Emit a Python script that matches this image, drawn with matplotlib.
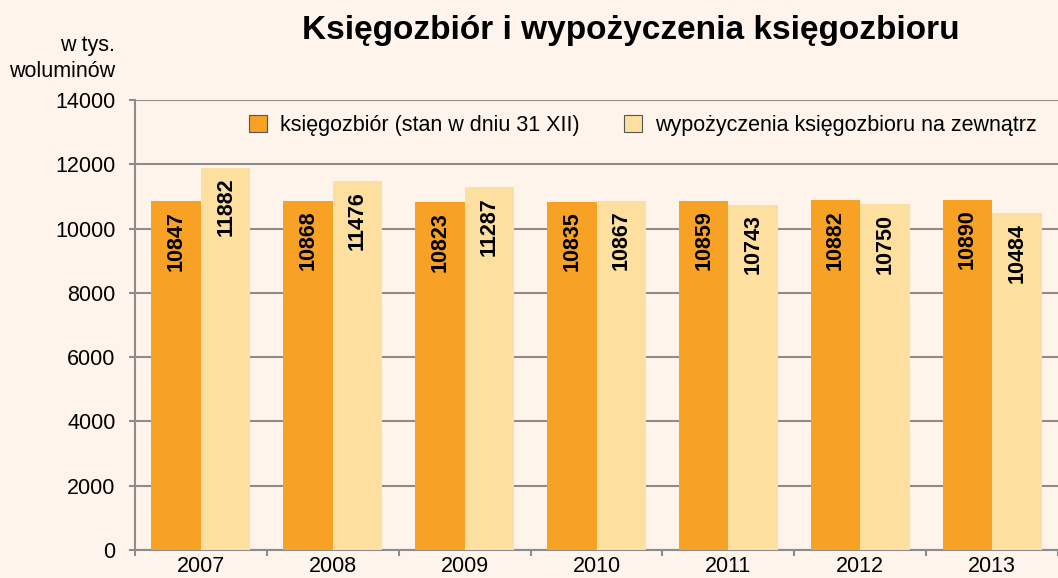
import numpy as np
import matplotlib.pyplot as plt

plt.rcParams['font.family'] = ['Liberation Sans', 'DejaVu Sans']

lata = ['2007', '2008', '2009', '2010', '2011', '2012', '2013']
ksiegozbior = [10847, 10868, 10823, 10835, 10859, 10882, 10890]
wypozyczenia = [11882, 11476, 11287, 10867, 10743, 10750, 10484]

tlo = '#FEF4EC'
pomaranczowy = '#F7A125'
jasny = '#FDDFA0'
szary = '#8C8C8C'

fig = plt.figure(figsize=(10.58, 5.78), dpi=100, facecolor=tlo)
ax = fig.add_axes([0.1276, 0.0484, 0.8724, 0.7786], facecolor=tlo)

x = np.arange(len(lata))
w = 0.375
b1 = ax.bar(x - w/2, ksiegozbior, w, color=pomaranczowy, zorder=3,
            label='księgozbiór (stan w dniu 31 XII)')
b2 = ax.bar(x + w/2, wypozyczenia, w, color=jasny, zorder=3,
            label='wypożyczenia księgozbioru na zewnątrz')

for bars, vals in ((b1, ksiegozbior), (b2, wypozyczenia)):
    for r, v in zip(bars, vals):
        ax.annotate(str(v), (r.get_x() + r.get_width()/2, v), xytext=(0, -7),
                    textcoords='offset points', rotation=90, ha='center', va='top',
                    fontsize=15.5, fontweight='bold', zorder=4)

ax.set_xlim(-0.5, len(lata) - 0.5)
ax.set_ylim(0, 14000)
ax.set_yticks(np.arange(0, 14001, 2000))
ax.yaxis.grid(True, color=szary, linewidth=1.5, zorder=0)
ax.set_xticks(x)
ax.set_xticklabels(lata)
ax.set_xticks(np.arange(-0.5, len(lata), 1), minor=True)
ax.tick_params(axis='x', which='major', length=0, labelsize=15.5, pad=4)
ax.tick_params(axis='x', which='minor', length=4, color=szary, width=1.5)
ax.tick_params(axis='y', length=4, color=szary, width=1.5, labelsize=15.5, pad=10)
for s in ('top', 'right'):
    ax.spines[s].set_visible(False)
for s in ('left', 'bottom'):
    ax.spines[s].set_color(szary)
    ax.spines[s].set_linewidth(1.5)

ax.legend(loc='upper left', bbox_to_anchor=(0.102, 1.01), ncol=2, frameon=False,
          fontsize=15.5, handlelength=0.85, handleheight=0.85, columnspacing=2.07,
          handletextpad=0.6)
for h in ax.get_legend().legend_handles:
    h.set_edgecolor('#555555')
    h.set_linewidth(0.8)

fig.text(0.596, 0.948, 'Księgozbiór i wypożyczenia księgozbioru', ha='center', va='center',
         fontsize=24, fontweight='bold')
fig.text(0.109, 0.922, 'w tys.', ha='right', va='center', fontsize=15.5)
fig.text(0.109, 0.876, 'woluminów', ha='right', va='center', fontsize=15.5)

plt.savefig('out.png', dpi=100, facecolor=tlo)
